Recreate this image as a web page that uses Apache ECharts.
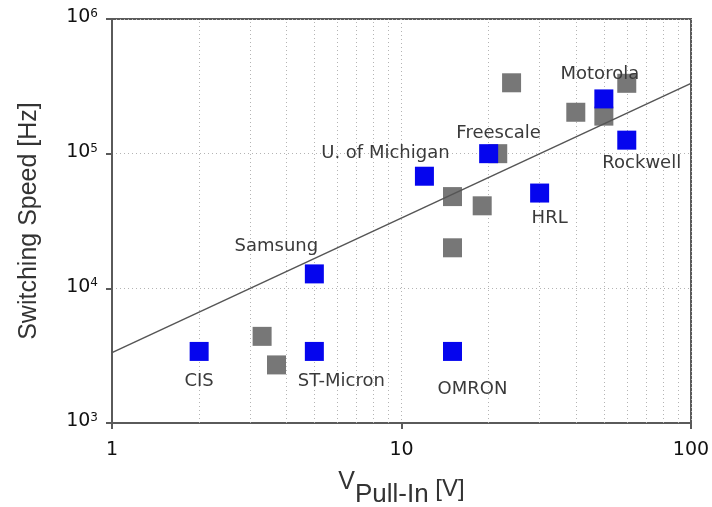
<!DOCTYPE html>
<html>
<head>
<meta charset="utf-8">
<script src="https://cdn.jsdelivr.net/npm/echarts@6/dist/echarts.min.js"></script>
<style>html,body{margin:0;padding:0;background:#fff}#c{width:712px;height:507px}</style>
</head>
<body>
<div id="c"></div>
<script>
// Data (x: pull-in voltage [V], y: switching speed [Hz])
const labeledNames = ['CIS', 'ST-Micron', 'Samsung', 'OMRON', 'U. of Michigan', 'Freescale', 'HRL', 'Motorola', 'Rockwell'];
const labeledX = [2, 5, 5, 15, 12, 20, 30, 50, 60];
const labeledY = [3400, 3400, 12800, 3400, 68000, 100000, 51000, 255000, 126000];
const otherX = [3.3, 3.7, 15, 15, 19, 21.5, 24, 40, 50, 60];
const otherY = [4400, 2700, 20000, 48000, 41000, 100000, 336000, 203000, 190000, 333000];
const trendX = [1, 100];
const trendY = [3330, 333000];
const minorGridX = [2, 3, 4, 5, 6, 7, 8, 9, 20, 30, 40, 50, 60, 70, 80, 90];
const xTicks = [1, 10, 100];
const yExponents = { 1000: '3', 10000: '4', 100000: '5', 1000000: '6' };

// label offsets (styling only, px)
const labelOffsets = {
  'CIS': [0, 30], 'ST-Micron': [27, 30], 'Samsung': [-38, -28], 'OMRON': [20, 38],
  'U. of Michigan': [-39, -23], 'Freescale': [10, -20], 'HRL': [10, 25],
  'Motorola': [-4, -25], 'Rockwell': [15, 23]
};

const chart = echarts.init(document.getElementById('c'));
const gridStyle = { color: '#b4b4b4', width: 1, type: [1, 3] };
chart.setOption({
  backgroundColor: '#ffffff',
  animation: false,
  grid: { left: 112, right: 21, top: 19, bottom: 84, show: true, borderColor: '#5a5a5a', borderWidth: 2, outerBoundsMode: 'none' },
  xAxis: {
    type: 'log', logBase: 10, min: 1, max: 100,
    axisLine: { show: true, lineStyle: { color: '#5a5a5a', width: 2 } },
    axisTick: { show: true, length: 6, lineStyle: { color: '#5a5a5a', width: 2 } },
    splitLine: { show: true, lineStyle: gridStyle },
    axisLabel: { fontFamily: 'DejaVu Sans', fontSize: 19, color: '#111', margin: 18,
      formatter: v => xTicks.indexOf(Math.round(v)) >= 0 ? String(Math.round(v)) : '' },
    name: '{v|V}{s|Pull-In}{u| [V]}',
    nameLocation: 'middle', nameGap: 47,
    nameTextStyle: {
      rich: {
        v: { fontFamily: 'Liberation Sans', fontSize: 25, color: '#333', lineHeight: 25, verticalAlign: 'top' },
        s: { fontFamily: 'Liberation Sans', fontSize: 26, color: '#333', lineHeight: 26, verticalAlign: 'bottom' },
        u: { fontFamily: 'Liberation Sans', fontSize: 24, color: '#333', lineHeight: 38, verticalAlign: 'middle' }
      }
    }
  },
  yAxis: {
    type: 'log', logBase: 10, min: 1000, max: 1000000,
    axisLine: { show: true, lineStyle: { color: '#5a5a5a', width: 2 } },
    axisTick: { show: true, length: 6, lineStyle: { color: '#5a5a5a', width: 2 } },
    splitLine: { show: true, lineStyle: gridStyle },
    axisLabel: {
      margin: 14,
      formatter: v => '{a|10}{b|' + (yExponents[Math.round(v)] || '') + '}',
      rich: {
        a: { fontFamily: 'DejaVu Sans', fontSize: 19, color: '#111', lineHeight: 22, verticalAlign: 'top' },
        b: { fontFamily: 'DejaVu Sans', fontSize: 12, color: '#111', lineHeight: 12, verticalAlign: 'top' }
      }
    },
    name: 'Switching Speed [Hz]',
    nameLocation: 'middle', nameGap: 70,
    nameTextStyle: { fontFamily: 'Liberation Sans', fontSize: 25, color: '#333' }
  },
  series: [
    {
      type: 'scatter', data: [], silent: true, z: 1,
      markLine: {
        silent: true, symbol: ['none', 'none'], animation: false, z: 1,
        label: { show: false },
        lineStyle: gridStyle,
        data: minorGridX.map(v => ({ xAxis: v }))
      }
    },
    {
      type: 'scatter', symbol: 'rect', symbolSize: 19, z: 3,
      itemStyle: { color: '#777777', opacity: 1 },
      data: otherX.map((x, i) => [x, otherY[i]])
    },
    {
      type: 'line', data: trendX.map((x, i) => [x, trendY[i]]), showSymbol: false, symbol: 'none',
      lineStyle: { color: '#555', width: 1.5 }, z: 4, silent: true
    },
    {
      type: 'scatter', symbol: 'rect', symbolSize: 19, z: 5,
      itemStyle: { color: '#0505ee', opacity: 1 },
      data: labeledX.map((x, i) => ({
        value: [x, labeledY[i]], name: labeledNames[i],
        label: { show: true, position: 'inside', offset: labelOffsets[labeledNames[i]],
          formatter: labeledNames[i], fontFamily: 'DejaVu Sans', fontSize: 18, color: '#3a3a3a' }
      }))
    }
  ]
});
</script>
</body>
</html>
